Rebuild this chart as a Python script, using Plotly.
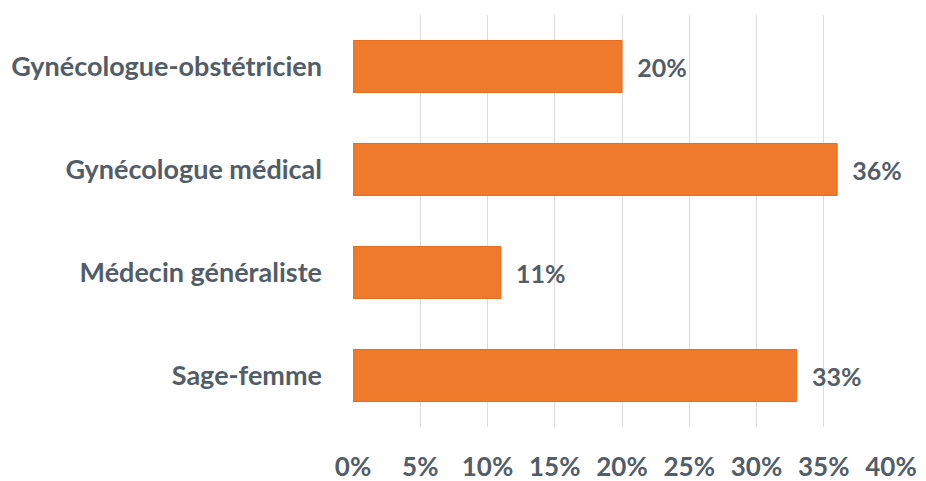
import plotly.graph_objects as go

categories = ["Gynécologue-obstétricien", "Gynécologue médical", "Médecin généraliste", "Sage-femme"]
values = [20, 36, 11, 33]
tick_vals = [0, 5, 10, 15, 20, 25, 30, 35, 40]
tick_text = ["0%", "5%", "10%", "15%", "20%", "25%", "30%", "35%", "40%"]

font_family = "Lato, 'Open Sans', sans-serif"
text_color = "#525D68"

fig = go.Figure(go.Bar(
    y=categories,
    x=values,
    orientation="h",
    marker=dict(color="#F07A2B", line=dict(color="#E46F20", width=1)),
    text=[f"  {v}%" for v in values],
    textposition="outside",
    textfont=dict(family=font_family, size=25, color=text_color, weight="bold"),
    cliponaxis=False,
    width=0.505,
))

# page body adds an 8px offset; margins compensate for it
fig.update_layout(
    width=926, height=481,
    paper_bgcolor="white", plot_bgcolor="white",
    margin=dict(l=345, r=43, t=7, b=62),
    showlegend=False,
    xaxis=dict(
        range=[0, 40], tickvals=tick_vals, ticktext=tick_text,
        showgrid=True, gridcolor="#DCDCDC", gridwidth=1,
        zeroline=False, showline=False, automargin=False,
        tickfont=dict(family=font_family, size=26, color=text_color, weight="bold"),
        ticks="", ticklabelstandoff=22,
    ),
    yaxis=dict(
        autorange="reversed", automargin=False,
        showgrid=False, zeroline=False, showline=False,
        tickfont=dict(family=font_family, size=27, color=text_color, weight="bold"),
        ticks="", ticklabelstandoff=30,
    ),
)

fig.write_html("out.html")
